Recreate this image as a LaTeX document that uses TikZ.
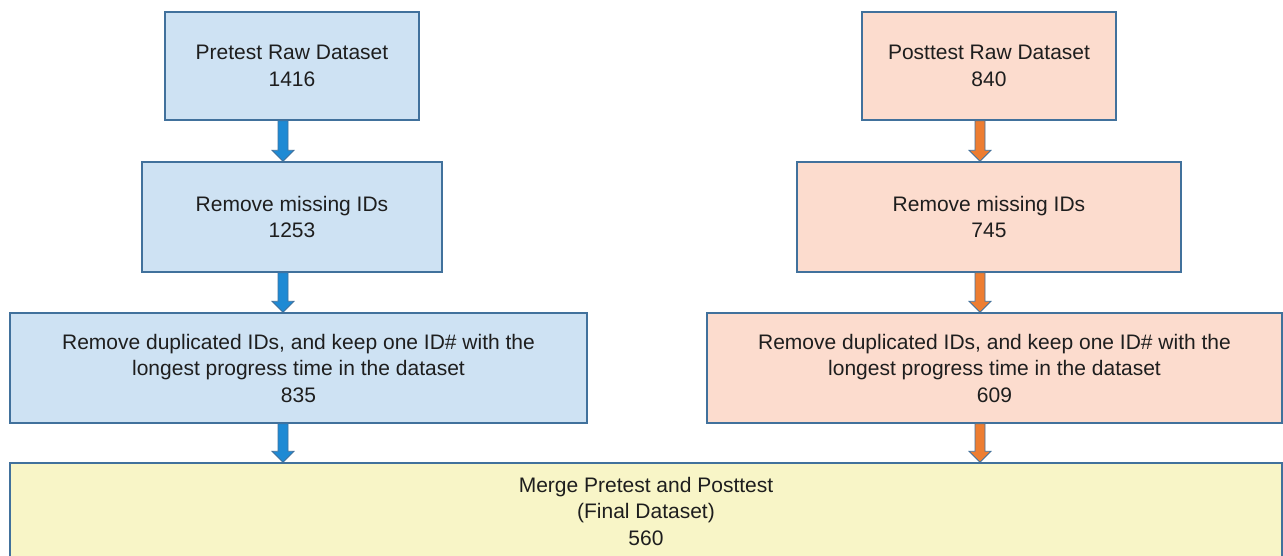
\documentclass[tikz,border=0pt]{standalone}
\usepackage{fontspec}
\setmainfont{Liberation Sans}
\usetikzlibrary{calc}
\definecolor{edge}{RGB}{65,113,156}
\definecolor{bluefill}{RGB}{206,226,243}
\definecolor{salmonfill}{RGB}{252,220,206}
\definecolor{yellowfill}{RGB}{248,245,199}
\definecolor{bluearrow}{RGB}{30,138,212}
\definecolor{orangearrow}{RGB}{237,125,49}
\definecolor{txt}{RGB}{30,30,30}
\newcommand{\blockarr}[3]{%
  \draw[arrowline, fill=#3]
    ($(#1)+(-5,0)$) -- ($(#2)+(-5,-11)$) -- ($(#2)+(-11,-11)$) -- (#2)
    -- ($(#2)+(11,-11)$) -- ($(#2)+(5,-11)$) -- ($(#1)+(5,0)$) -- cycle;}
\begin{document}
\begin{tikzpicture}[x=1pt,y=-1pt,
  box/.style={draw=edge, line width=1.4pt, rectangle, inner sep=0pt, align=center,
    text=txt, font=\fontsize{21}{26.5}\selectfont},
  bluebox/.style={box, fill=bluefill},
  salbox/.style={box, fill=salmonfill},
  yelbox/.style={box, fill=yellowfill},
  arrowline/.style={draw=edge, line width=0.8pt, line join=miter}]
\useasboundingbox (0,0) rectangle (1283,556);
\clip (0,0) rectangle (1283,556);
\fill[white] (0,0) rectangle (1283,556);

\node[bluebox, minimum width=254pt, minimum height=108pt] (L1) at (292,66)
  {Pretest Raw Dataset\\1416};
\node[bluebox, minimum width=300pt, minimum height=110pt] (L2) at (292,217)
  {Remove missing IDs\\1253};
\node[bluebox, minimum width=577pt, minimum height=110pt] (L3) at (298.5,368)
  {Remove duplicated IDs, and keep one ID\# with the\\longest progress time in the dataset\\835};

\node[salbox, minimum width=254pt, minimum height=108pt] (R1) at (989,66)
  {Posttest Raw Dataset\\840};
\node[salbox, minimum width=384pt, minimum height=110pt] (R2) at (989,217)
  {Remove missing IDs\\745};
\node[salbox, minimum width=575pt, minimum height=110pt] (R3) at (994.5,368)
  {Remove duplicated IDs, and keep one ID\# with the\\longest progress time in the dataset\\609};

\node[yelbox, minimum width=1272pt, minimum height=96pt] (F) at (646,511)
  {Merge Pretest and Posttest\\(Final Dataset)\\560};

\coordinate (a1s) at (283,0 |- L1.south);
\coordinate (a1e) at (283,0 |- L2.north);
\coordinate (a2s) at (283,0 |- L2.south);
\coordinate (a2e) at (283,0 |- L3.north);
\coordinate (a3s) at (283,0 |- L3.south);
\coordinate (a3e) at (283,0 |- F.north);
\coordinate (b1s) at (980,0 |- R1.south);
\coordinate (b1e) at (980,0 |- R2.north);
\coordinate (b2s) at (980,0 |- R2.south);
\coordinate (b2e) at (980,0 |- R3.north);
\coordinate (b3s) at (980,0 |- R3.south);
\coordinate (b3e) at (980,0 |- F.north);

\blockarr{a1s}{a1e}{bluearrow}
\blockarr{a2s}{a2e}{bluearrow}
\blockarr{a3s}{a3e}{bluearrow}
\blockarr{b1s}{b1e}{orangearrow}
\blockarr{b2s}{b2e}{orangearrow}
\blockarr{b3s}{b3e}{orangearrow}
\end{tikzpicture}
\end{document}
